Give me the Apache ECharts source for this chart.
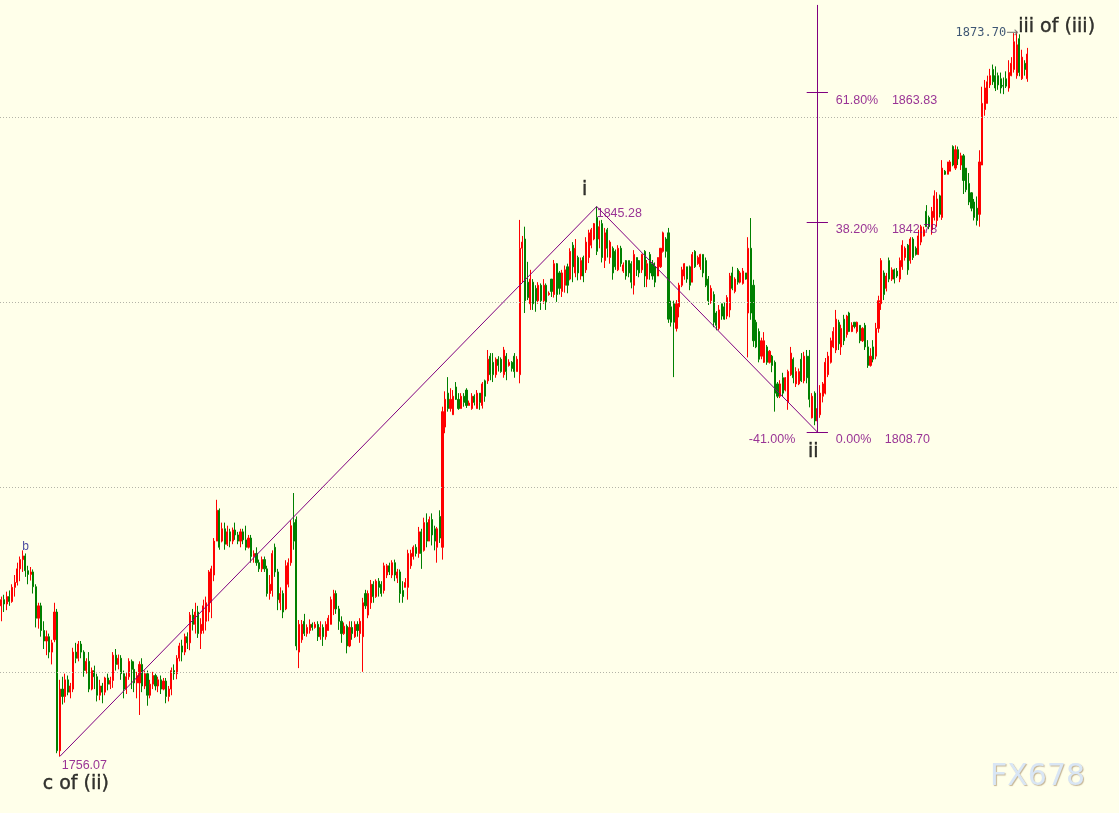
<!DOCTYPE html>
<html><head><meta charset="utf-8">
<script src="https://cdn.jsdelivr.net/npm/echarts@6/dist/echarts.min.js"></script>
<style>html,body{margin:0;padding:0;background:#FFFFEA;}#c{width:1119px;height:813px;}</style>
</head><body><div id="c"></div>
<script>
// [open, close, low, high]
const ohlc = [
[1780.5,1781.5,1778.0,1782.0],[1781.5,1780.8,1779.5,1782.3],[1780.8,1782.0,1779.8,1782.8],[1782.0,1781.2,1780.5,1783.0],[1781.2,1783.5,1781.0,1784.0],
[1783.5,1784.3,1782.0,1785.5],[1784.3,1786.5,1783.8,1787.5],[1786.5,1788.0,1784.5,1788.5],[1788.0,1788.6,1786.0,1789.5],[1788.6,1786.2,1785.2,1789.0],
[1786.2,1785.6,1784.0,1787.0],[1785.6,1786.0,1784.6,1786.8],[1786.0,1783.6,1782.5,1786.4],[1783.6,1778.5,1777.0,1784.0],[1778.5,1780.5,1776.8,1781.0],
[1780.5,1776.5,1775.5,1781.0],[1776.5,1774.8,1773.5,1778.0],[1774.8,1775.5,1772.5,1776.5],[1775.5,1773.0,1772.0,1776.0],[1773.0,1774.5,1771.0,1775.0],
[1775.0,1779.5,1774.6,1781.0],[1779.5,1757.0,1756.6,1780.0],[1757.0,1767.0,1756.07,1768.5],[1767.0,1765.8,1764.5,1769.0],[1765.8,1768.5,1764.8,1769.5],
[1768.5,1766.5,1766.0,1769.2],[1766.5,1767.5,1765.5,1768.0],[1767.0,1773.0,1766.5,1773.7],[1773.0,1772.0,1771.2,1774.5],[1772.0,1774.3,1771.5,1774.8],
[1774.3,1773.0,1772.0,1774.8],[1773.0,1770.0,1769.0,1773.3],[1770.0,1771.5,1769.5,1772.0],[1771.5,1767.0,1766.5,1773.0],[1767.0,1770.0,1766.8,1770.5],
[1770.0,1769.0,1767.0,1770.8],[1769.0,1766.0,1765.0,1769.5],[1766.0,1767.5,1765.2,1768.5],[1767.5,1766.5,1764.7,1768.0],[1766.5,1768.8,1766.0,1769.0],
[1768.8,1767.8,1766.8,1769.5],[1767.8,1768.4,1767.0,1769.0],[1768.4,1772.5,1767.2,1773.0],[1772.5,1771.0,1770.0,1773.5],[1771.0,1772.0,1770.2,1772.6],
[1772.0,1769.5,1768.5,1772.5],[1769.5,1767.0,1765.5,1770.0],[1767.0,1769.0,1766.2,1769.6],[1769.0,1771.5,1768.5,1772.0],[1771.5,1770.2,1767.0,1771.8],
[1770.2,1768.0,1766.5,1771.5],[1768.0,1769.2,1765.5,1769.8],[1768.0,1771.0,1762.8,1771.5],[1771.0,1767.5,1766.5,1772.0],[1767.5,1769.5,1767.0,1770.0],
[1769.5,1766.0,1764.3,1770.0],[1766.0,1767.8,1765.5,1768.5],[1767.8,1769.2,1767.0,1769.8],[1769.2,1767.5,1766.8,1769.5],[1767.5,1768.5,1766.5,1769.0],
[1768.5,1767.0,1766.2,1769.2],[1767.0,1768.3,1766.8,1768.8],[1768.3,1765.8,1764.7,1768.8],[1765.8,1767.0,1765.0,1767.5],[1767.0,1770.0,1766.0,1770.5],
[1770.0,1769.5,1768.5,1771.0],[1769.5,1772.0,1768.6,1772.5],[1772.0,1774.0,1771.5,1774.5],[1774.0,1773.0,1771.5,1775.0],[1773.0,1775.5,1772.5,1776.0],
[1775.5,1774.5,1773.5,1776.2],[1774.5,1779.0,1773.3,1779.5],[1779.0,1777.5,1776.5,1780.0],[1777.5,1779.5,1776.0,1781.0],[1779.5,1776.0,1775.3,1780.5],
[1776.0,1777.5,1773.5,1778.5],[1776.5,1780.5,1776.0,1781.5],[1778.0,1781.0,1776.5,1782.0],[1779.5,1786.0,1778.0,1786.3],[1781.0,1786.5,1778.5,1787.0],
[1785.5,1791.0,1784.5,1791.5],[1791.0,1796.0,1791.0,1797.7],[1796.0,1790.0,1789.6,1796.3],[1791.0,1793.0,1790.8,1794.0],[1793.0,1790.5,1789.6,1794.0],
[1790.5,1792.5,1790.2,1793.5],[1792.5,1791.0,1790.0,1793.0],[1791.0,1792.8,1790.5,1793.2],[1792.8,1792.0,1791.2,1794.0],[1792.0,1791.0,1790.5,1792.5],
[1791.0,1792.5,1790.0,1793.0],[1792.5,1791.2,1790.5,1793.0],[1791.2,1790.0,1789.5,1793.5],[1790.0,1791.5,1789.8,1792.0],[1791.5,1788.5,1787.5,1792.0],
[1788.5,1789.0,1787.5,1789.5],[1789.0,1787.5,1787.0,1790.0],[1787.5,1786.5,1786.0,1788.0],[1786.5,1788.0,1786.0,1788.5],[1788.0,1786.5,1786.0,1788.5],
[1786.5,1782.5,1782.0,1787.0],[1782.5,1784.0,1781.5,1785.5],[1783.0,1789.0,1782.0,1789.5],[1790.0,1786.0,1785.2,1790.6],[1786.0,1781.5,1779.8,1786.5],
[1781.0,1782.5,1779.8,1783.5],[1782.5,1779.5,1778.5,1783.0],[1780.0,1787.0,1779.8,1787.9],[1784.0,1787.5,1783.5,1788.2],[1787.5,1793.5,1787.0,1794.4],
[1794.0,1791.0,1789.6,1798.8],[1794.5,1774.0,1773.3,1795.0],[1773.0,1777.5,1770.4,1778.2],[1775.0,1777.5,1774.5,1778.2],[1778.0,1776.0,1775.6,1779.2],
[1776.0,1777.0,1775.5,1777.5],[1776.5,1777.5,1776.0,1778.3],[1777.5,1777.0,1776.5,1777.8],[1777.0,1777.5,1776.8,1777.9],[1777.5,1775.5,1774.8,1778.0],
[1775.5,1777.0,1775.0,1778.0],[1777.0,1775.5,1774.0,1777.5],[1775.5,1777.5,1775.0,1778.0],[1776.5,1778.5,1776.5,1779.0],[1777.5,1781.5,1777.5,1782.0],
[1780.0,1782.5,1779.0,1783.1],[1782.5,1780.0,1779.2,1783.0],[1780.0,1778.0,1776.6,1780.5],[1778.0,1776.0,1774.5,1778.8],[1776.0,1777.2,1775.8,1777.8],
[1777.2,1774.0,1772.8,1777.5],[1774.0,1777.0,1773.8,1778.0],[1777.0,1776.0,1775.0,1778.0],[1775.5,1777.5,1775.3,1778.0],[1777.5,1776.5,1775.5,1778.0],
[1776.0,1778.0,1774.5,1778.5],[1775.5,1781.0,1769.8,1781.8],[1782.5,1780.5,1780.0,1783.1],[1779.0,1782.5,1778.5,1783.0],[1781.0,1784.0,1780.0,1784.7],
[1784.0,1782.0,1781.0,1784.5],[1782.0,1784.5,1781.8,1784.8],[1784.5,1783.5,1782.0,1785.0],[1784.0,1782.5,1782.0,1784.5],[1783.0,1787.0,1782.5,1787.5],
[1785.5,1787.0,1785.0,1787.3],[1787.0,1786.0,1785.5,1787.5],[1785.5,1787.5,1785.0,1787.9],[1787.5,1785.5,1784.5,1788.0],[1785.0,1786.0,1784.2,1786.5],
[1786.0,1782.5,1781.0,1786.4],[1783.0,1782.0,1781.0,1784.5],[1783.5,1784.3,1783.5,1785.0],[1783.5,1789.0,1781.5,1789.6],[1787.0,1789.0,1786.5,1789.6],
[1788.5,1790.0,1788.0,1790.3],[1790.0,1789.0,1788.5,1790.5],[1789.0,1792.5,1788.3,1793.3],[1792.5,1789.0,1786.5,1793.0],[1789.5,1794.0,1789.3,1794.8],
[1794.0,1791.0,1790.0,1795.5],[1791.0,1794.5,1791.0,1795.0],[1794.5,1792.0,1790.3,1795.5],[1793.0,1791.0,1789.5,1793.5],[1790.0,1793.0,1787.5,1793.3],
[1795.0,1791.5,1790.7,1796.0],[1790.0,1812.0,1788.0,1812.8],[1809.5,1814.0,1808.5,1815.3],[1815.0,1812.5,1812.0,1817.6],[1812.5,1814.0,1812.0,1815.8],
[1811.5,1814.5,1811.5,1815.5],[1816.0,1814.0,1813.9,1816.8],[1814.0,1812.5,1812.3,1815.0],[1812.5,1814.5,1812.5,1815.0],[1814.5,1813.5,1812.8,1815.0],
[1815.5,1813.0,1812.6,1815.8],[1813.0,1813.4,1813.0,1813.8],[1812.5,1814.5,1812.3,1815.0],[1814.5,1813.5,1813.0,1814.8],[1812.5,1815.0,1812.5,1815.5],
[1815.0,1813.5,1812.3,1815.0],[1813.0,1816.5,1812.5,1816.8],[1817.0,1814.5,1813.6,1817.2],[1817.0,1820.5,1816.5,1822.0],[1821.0,1818.0,1817.1,1821.5],
[1820.0,1818.0,1816.8,1821.5],[1818.0,1820.5,1817.5,1820.8],[1820.5,1819.5,1818.5,1821.0],[1820.5,1818.5,1818.3,1820.8],[1818.0,1822.0,1817.5,1822.5],
[1821.0,1818.5,1817.1,1821.5],[1819.5,1820.0,1819.3,1820.5],[1820.0,1819.0,1818.5,1820.2],[1821.0,1818.5,1817.5,1821.5],[1818.5,1820.5,1818.5,1821.0],
[1818.0,1838.5,1816.6,1843.1],[1838.5,1839.5,1833.0,1840.5],[1840.0,1830.0,1828.0,1842.0],[1833.0,1830.5,1830.1,1836.3],[1829.5,1833.5,1828.5,1835.0],
[1833.0,1829.5,1828.5,1833.5],[1832.0,1830.0,1828.2,1832.5],[1830.0,1832.5,1829.5,1833.0],[1832.5,1830.0,1828.5,1832.8],[1830.0,1832.5,1829.5,1833.5],
[1832.5,1829.8,1828.5,1832.8],[1831.0,1831.2,1830.8,1831.5],[1833.5,1831.5,1830.6,1833.5],[1831.0,1836.0,1830.5,1836.6],[1836.0,1831.0,1829.8,1836.1],
[1834.5,1832.0,1831.0,1834.8],[1831.5,1834.5,1830.6,1835.0],[1832.5,1835.0,1831.3,1835.7],[1835.5,1832.5,1831.2,1836.0],[1833.5,1838.0,1833.3,1838.5],
[1839.0,1835.5,1833.0,1839.5],[1834.5,1838.5,1833.8,1840.0],[1837.0,1834.5,1833.3,1837.3],[1834.0,1836.5,1833.4,1837.0],[1837.0,1834.0,1833.0,1837.3],
[1835.0,1839.5,1834.5,1840.3],[1837.0,1841.0,1836.1,1841.5],[1839.0,1841.5,1838.5,1841.8],[1840.0,1842.5,1839.8,1842.6],[1843.5,1838.0,1837.4,1845.28],
[1840.0,1842.0,1838.5,1843.0],[1842.5,1837.0,1836.2,1843.1],[1836.5,1841.0,1835.3,1841.8],[1841.5,1838.5,1837.0,1841.8],[1837.0,1839.5,1836.0,1839.8],
[1838.5,1834.5,1833.4,1838.8],[1838.0,1835.5,1835.0,1838.3],[1835.0,1838.5,1834.8,1839.0],[1838.5,1836.0,1835.5,1838.9],[1834.8,1835.8,1834.5,1836.2],
[1836.5,1834.0,1833.4,1836.6],[1836.5,1834.5,1833.8,1836.5],[1836.0,1833.0,1832.0,1836.4],[1832.5,1837.5,1831.0,1838.2],[1837.0,1835.0,1834.0,1837.0],
[1836.5,1834.5,1833.8,1836.6],[1835.0,1837.5,1834.5,1837.6],[1838.0,1834.0,1832.2,1838.2],[1833.5,1836.0,1832.2,1836.6],[1837.5,1834.5,1833.4,1837.9],
[1836.0,1834.0,1833.4,1836.6],[1835.5,1833.0,1832.2,1836.2],[1834.0,1837.0,1834.0,1837.0],[1835.5,1838.5,1835.3,1838.5],[1838.0,1841.0,1837.8,1841.2],
[1840.0,1838.0,1837.0,1840.3],[1841.0,1827.0,1826.4,1841.8],[1829.0,1826.5,1825.8,1830.0],[1829.5,1826.5,1817.6,1830.0],[1825.5,1829.5,1825.0,1830.1],
[1829.0,1832.5,1827.3,1832.9],[1832.5,1835.0,1832.2,1835.5],[1834.0,1836.0,1833.4,1836.1],[1835.5,1833.5,1832.9,1835.5],[1835.5,1832.5,1831.7,1835.7],
[1833.0,1837.5,1833.0,1837.9],[1838.0,1835.5,1835.3,1838.2],[1836.0,1837.0,1835.8,1837.3],[1835.5,1837.5,1835.0,1837.6],[1837.5,1834.5,1833.8,1837.5],
[1836.5,1832.5,1832.2,1837.0],[1833.5,1830.0,1829.3,1834.0],[1830.0,1832.0,1829.5,1832.5],[1831.0,1826.5,1825.7,1831.5],[1828.0,1826.0,1825.2,1828.3],
[1825.5,1828.5,1825.2,1829.3],[1829.5,1827.5,1826.9,1829.5],[1829.0,1827.0,1826.9,1829.7],[1827.5,1830.5,1827.0,1830.9],[1828.5,1834.0,1827.3,1834.5],
[1834.5,1832.0,1831.7,1835.5],[1831.5,1833.5,1831.2,1833.8],[1835.0,1833.0,1832.6,1835.3],[1833.0,1834.5,1832.8,1834.8],[1832.8,1834.8,1832.6,1835.3],
[1834.5,1833.5,1833.4,1834.5],[1828.0,1838.5,1820.8,1840.3],[1838.5,1828.0,1826.9,1843.4],[1832.5,1823.5,1822.5,1833.4],[1826.5,1822.5,1822.3,1826.9],
[1825.0,1820.5,1820.0,1825.5],[1821.0,1823.5,1820.5,1824.0],[1820.0,1823.5,1819.9,1824.9],[1822.5,1820.0,1819.6,1822.8],[1820.0,1821.8,1819.8,1822.0],
[1821.0,1819.5,1818.4,1821.2],[1820.0,1815.0,1812.0,1820.3],[1816.5,1814.5,1814.2,1816.8],[1814.5,1816.5,1814.2,1817.1],[1817.5,1815.0,1814.4,1818.3],
[1815.5,1817.5,1815.3,1817.6],[1813.5,1818.5,1812.3,1818.8],[1818.0,1821.5,1817.8,1822.5],[1820.5,1817.5,1816.6,1820.8],[1816.5,1818.5,1816.0,1819.2],
[1816.5,1818.5,1816.3,1819.0],[1820.5,1817.0,1816.8,1821.5],[1817.0,1821.0,1816.6,1821.7],[1821.0,1817.5,1816.6,1822.0],[1821.0,1814.0,1812.7,1822.0],
[1811.0,1814.5,1810.9,1815.0],[1815.0,1810.5,1809.8,1815.3],[1810.5,1812.5,1808.7,1813.5],[1811.5,1815.0,1811.0,1816.3],[1814.5,1816.5,1813.5,1816.8],
[1815.0,1820.0,1814.8,1820.7],[1818.0,1821.0,1817.6,1821.7],[1820.0,1823.5,1819.8,1824.0],[1822.5,1825.0,1822.3,1825.7],[1822.0,1827.0,1821.5,1828.5],
[1826.5,1823.0,1822.0,1826.9],[1822.5,1825.5,1821.2,1826.1],[1827.0,1823.5,1822.8,1827.7],[1824.5,1827.5,1824.0,1827.7],[1828.0,1825.0,1824.9,1828.2],
[1825.0,1826.0,1824.9,1826.5],[1826.5,1825.8,1825.5,1826.5],[1825.0,1826.5,1824.7,1826.6],[1826.0,1823.5,1823.1,1826.0],[1823.5,1825.5,1823.3,1825.7],
[1826.0,1822.5,1822.0,1826.4],[1822.5,1819.5,1819.1,1823.6],[1819.5,1821.0,1819.3,1822.3],[1822.5,1820.5,1820.0,1823.6],[1821.0,1825.5,1820.5,1826.4],
[1825.5,1830.0,1824.8,1830.8],[1829.5,1836.5,1828.5,1836.9],[1834.5,1831.0,1830.1,1834.9],[1832.0,1834.0,1831.5,1834.5],[1836.5,1833.5,1833.0,1837.0],
[1833.5,1835.0,1833.2,1835.4],[1835.0,1833.5,1832.8,1835.2],[1834.8,1834.0,1833.7,1835.3],[1833.5,1836.5,1833.0,1837.0],[1835.5,1839.0,1835.0,1839.8],
[1837.0,1838.5,1836.5,1838.8],[1839.0,1835.0,1834.2,1839.2],[1836.5,1840.0,1836.0,1840.3],[1840.0,1837.0,1836.6,1840.3],[1838.5,1837.5,1837.3,1838.8],
[1837.5,1840.5,1837.4,1841.5],[1839.5,1842.0,1839.0,1842.3],[1840.5,1841.5,1840.4,1842.0],[1844.5,1842.0,1842.0,1845.5],[1843.5,1842.0,1841.6,1843.8],
[1841.5,1844.5,1840.7,1845.2],[1843.5,1847.0,1843.0,1847.9],[1843.0,1846.5,1842.0,1847.6],[1847.0,1844.0,1843.5,1847.2],[1843.5,1851.5,1843.1,1852.8],
[1851.0,1850.5,1850.4,1851.2],[1850.5,1852.5,1850.5,1852.5],[1851.0,1852.5,1851.0,1852.8],[1855.0,1852.0,1851.8,1855.2],[1851.5,1854.5,1851.2,1855.2],
[1854.5,1853.0,1852.0,1855.0],[1852.0,1853.5,1851.2,1854.0],[1853.5,1849.5,1847.3,1853.8],[1851.5,1848.0,1847.6,1851.5],[1849.0,1846.0,1845.5,1850.7],
[1847.5,1845.0,1844.5,1847.6],[1846.0,1843.5,1843.0,1846.5],[1845.0,1843.0,1842.2,1846.9],[1844.0,1852.5,1842.0,1854.4],[1852.0,1862.0,1852.0,1864.7],
[1861.0,1864.5,1860.0,1865.8],[1862.0,1865.5,1862.0,1866.5],[1865.0,1866.5,1864.5,1867.6],[1867.5,1865.5,1865.0,1868.3],[1866.5,1864.5,1864.0,1868.0],
[1866.5,1865.0,1864.2,1867.0],[1866.0,1864.5,1863.6,1867.0],[1864.9,1864.8,1863.5,1866.2],[1866.0,1864.8,1864.5,1867.2],[1864.5,1867.0,1863.9,1869.0],
[1866.5,1868.5,1866.4,1869.5],[1867.5,1872.0,1867.0,1873.4],[1866.5,1871.5,1866.0,1873.7],[1872.5,1867.0,1866.4,1873.2],[1866.0,1869.5,1865.8,1870.7],
[1868.5,1867.5,1866.5,1869.0],[1866.0,1870.0,1865.5,1871.0]
];
const gridLevels = [1769.8, 1799.8, 1829.8, 1859.8];
const waveIdx = [22, 224, 307];
const wavePrice = [1756.07, 1845.28, 1808.70];
const fibPct = ['61.80%', '38.20%', '0.00%'];
const fibPrice = [1863.83, 1842.78, 1808.70];
const fibExtLabel = '-41.00%';
const peakIdx = 382, peakPrice = 1873.70;
const bIdx = 8, bPrice = 1789.5;
const yMin = 1746.9, yMax = 1878.77;
const emptySlots = 34;

const categories = [];
for (let i = 0; i < ohlc.length + emptySlots; i++) categories.push(String(i));

const PURPLE = '#800080';
const small = {fontFamily: 'Liberation Sans', fontSize: 12.5, color: PURPLE};
const big = {fontFamily: 'DejaVu Sans', fontSize: 19, color: '#000', textBorderColor: '#000', textBorderWidth: 0.4};

function lbl(idx, price, text, o) {
  return {value: [idx, price], label: Object.assign({show: true, formatter: text, position: 'inside', align: 'center', verticalAlign: 'middle'}, o)};
}

const iiIdx = waveIdx[2];
const labels = [
  lbl(bIdx, bPrice, 'b', {fontFamily: 'Liberation Sans', fontSize: 12, color: '#1a1a8c', offset: [3, -4]}),
  lbl(waveIdx[0], wavePrice[0], wavePrice[0].toFixed(2), Object.assign({}, small, {align: 'left', offset: [2, 9.5]})),
  lbl(waveIdx[0], wavePrice[0], 'c of (ii)', Object.assign({}, big, {offset: [16, 27.5]})),
  lbl(waveIdx[1], wavePrice[1], 'i', Object.assign({}, big, {offset: [-12, -16]})),
  lbl(waveIdx[1], wavePrice[1], wavePrice[1].toFixed(2), Object.assign({}, small, {align: 'left', offset: [0, 7.5]})),
  lbl(iiIdx, wavePrice[2], 'ii', Object.assign({}, big, {offset: [-4, 20]})),
  lbl(peakIdx, peakPrice, 'iii of (iii)', Object.assign({}, big, {align: 'left', offset: [1.5, -4]})),
  lbl(peakIdx, peakPrice, '{a|' + peakPrice.toFixed(2) + '}{b|→}', {align: 'right', offset: [2, 1.5],
      rich: {a: {fontFamily: 'DejaVu Sans Mono', fontSize: 12, color: '#0c2a55'}, b: {fontFamily: 'DejaVu Sans', fontSize: 15, color: '#707070'}}}),
  lbl(iiIdx, fibPrice[2], fibExtLabel, Object.assign({}, small, {align: 'right', offset: [-22, 8]}))
];
const priceOffsets = [74.6, 74.6, 67.5];
fibPct.forEach((p, k) => {
  labels.push(lbl(iiIdx, fibPrice[k], p, Object.assign({}, small, {align: 'left', offset: [18.5, 8]})));
  labels.push(lbl(iiIdx, fibPrice[k], fibPrice[k].toFixed(2), Object.assign({}, small, {align: 'left', offset: [priceOffsets[k], 8]})));
});

const fibSegs = fibPrice.map(v => [{coord: [iiIdx - 4, v]}, {coord: [iiIdx + 4, v]}]);
fibSegs.push([{coord: [iiIdx, wavePrice[2]]}, {coord: [iiIdx, yMax - 0.8]}]);

const chart = echarts.init(document.getElementById('c'), null, {renderer: 'canvas'});
chart.setOption({
  animation: false,
  backgroundColor: '#FFFFEA',
  grid: {left: 0, right: 0, top: 0, bottom: 0},
  xAxis: {type: 'category', data: categories, show: false, boundaryGap: true},
  yAxis: {type: 'value', min: yMin, max: yMax, show: false, splitLine: {show: false}},
  graphic: [{
    type: 'text', left: 990, top: 762, z: 0,
    style: {text: 'FX678', font: '30px "DejaVu Sans"', fill: '#d9e6f5',
      textShadowColor: 'rgba(150,120,80,0.55)', textShadowOffsetX: 1, textShadowOffsetY: 1, textShadowBlur: 1}
  }],
  series: [
    {
      type: 'line', data: [], silent: true,
      markLine: {silent: true, symbol: ['none', 'none'], label: {show: false},
        lineStyle: {color: '#b4b4a8', width: 1, type: [1, 2]},
        data: gridLevels.map(v => ({yAxis: v}))}
    },
    {
      type: 'candlestick', data: ohlc, barWidth: 1.6, large: false, silent: true,
      itemStyle: {color: '#ff0000', color0: '#008000', borderColor: '#ff0000', borderColor0: '#008000', borderWidth: 1}
    },
    {
      type: 'line', silent: true, symbol: 'none', z: 3,
      data: waveIdx.map((x, k) => [x, wavePrice[k]]),
      lineStyle: {color: PURPLE, width: 1}
    },
    {
      type: 'line', data: [], silent: true,
      markLine: {silent: true, symbol: ['none', 'none'], label: {show: false},
        lineStyle: {color: PURPLE, width: 1, type: 'solid'}, data: fibSegs}
    },
    {
      type: 'scatter', silent: true, symbol: 'circle', symbolSize: 1, z: 5,
      itemStyle: {color: 'rgba(0,0,0,0)'}, data: labels
    }
  ]
});
</script>
</body></html>
